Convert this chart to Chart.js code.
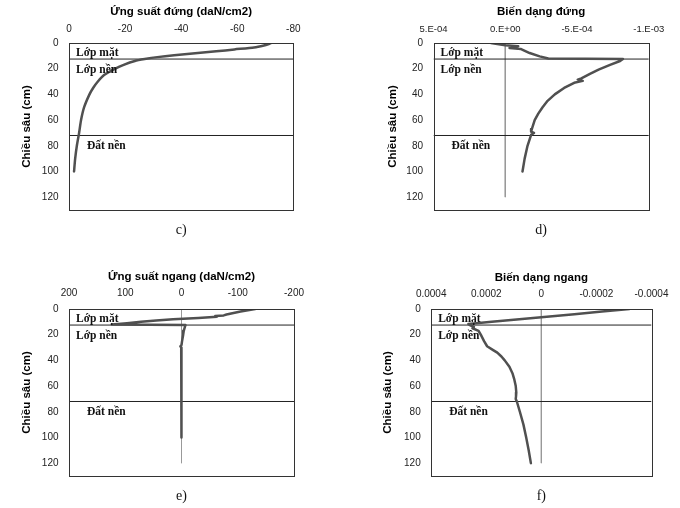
<!DOCTYPE html>
<html>
<head>
<meta charset="utf-8">
<script src="https://cdn.jsdelivr.net/npm/chart.js@4/dist/chart.umd.min.js"></script>
<style>
  body { margin: 0; background: #fff; width: 680px; height: 508px; position: relative; overflow: hidden; }
  .panel { position: absolute; width: 340px; height: 254px; }
</style>
</head>
<body>
<div class="panel" style="left:0;top:0"><canvas id="chartC"></canvas></div>
<div class="panel" style="left:340px;top:0"><canvas id="chartD"></canvas></div>
<div class="panel" style="left:0;top:254px"><canvas id="chartE"></canvas></div>
<div class="panel" style="left:340px;top:254px"><canvas id="chartF"></canvas></div>
<script>
// shared depth axis + layers
const depthTicks = [0, 20, 40, 60, 80, 100, 120]
const layerBounds = [12.5, 72]
const layerNames = ['Lớp mặt', 'Lớp nền', 'Đất nền']
const layerLabelDepths = [8, 21, 80]
const zeroLineDepths = [0, 120]

// c) Ứng suất đứng (daN/cm2)
const depthC = [0, 1, 2, 3.5, 5, 6.5, 8, 9.5, 11, 12.5, 14, 17, 20, 25, 30, 35, 40, 50, 60, 70, 80, 90, 100]
const stressV = [-72, -71, -69.5, -66, -59, -52.5, -45, -37.5, -31.5, -27, -23.5, -19.5, -16.5, -12.5, -10.3, -8.6, -7.3, -5.4, -4.3, -3.6, -2.8, -2.2, -1.8]
const ticksC = [0, -20, -40, -60, -80]
const tickLabelsC = ['0', '-20', '-40', '-60', '-80']

// d) Biến dạng đứng
const depthD = [0, 1.8, 2.6, 3.9, 4.7, 7.8, 10.4, 12, 12.5, 14, 17, 20.8, 24, 27.5, 28.5, 29.5, 31, 35, 40, 45, 50, 55, 60, 67, 69, 70, 71.5, 80, 90, 100]
const strainV = [1.0e-4, 0.0e-4, -0.9e-4, -0.3e-4, -1.1e-4, -1.7e-4, -2.4e-4, -3.0e-4, -8.2e-4, -8.0e-4, -7.3e-4, -6.5e-4, -5.9e-4, -5.3e-4, -5.05e-4, -5.4e-4, -4.8e-4, -4.1e-4, -3.45e-4, -2.95e-4, -2.6e-4, -2.3e-4, -2.05e-4, -1.85e-4, -1.8e-4, -2.0e-4, -1.8e-4, -1.55e-4, -1.35e-4, -1.2e-4]
const ticksD = [5e-4, 0, -5e-4, -1e-3]
const tickLabelsD = ['5.E-04', '0.E+00', '-5.E-04', '-1.E-03']

// e) Ứng suất ngang (daN/cm2)
const depthE = [0, 2, 4.3, 5, 5.5, 6.1, 7, 8, 9, 10, 11, 11.6, 12.1, 12.5, 14, 17, 20, 25, 28, 29, 30, 35, 50, 70, 72, 80, 90, 100]
const stressH = [-131, -105, -80, -75, -60, -63, -30, 15, 45, 72, 97, 113, 124, -7, -6, -4, -3, -1, 0, 2, 0.5, 0.5, 0.5, 0.5, 0, 0, -0.5, -0.5]
const ticksE = [200, 100, 0, -100, -200]
const tickLabelsE = ['200', '100', '0', '-100', '-200']

// f) Biến dạng ngang
const depthF = [0, 2, 4, 6, 8, 10, 11.7, 12.5, 14, 15, 17, 20, 25, 29, 32, 34, 37, 40, 45, 50, 55, 60, 65, 68, 70, 72, 80, 90, 100, 110, 120]
const strainH = [-3.2e-4, -2.2e-4, -1.2e-4, -0.2e-4, 0.8e-4, 1.8e-4, 2.65e-4, 2.6e-4, 2.45e-4, 2.5e-4, 2.28e-4, 2.2e-4, 2.08e-4, 1.97e-4, 1.75e-4, 1.6e-4, 1.45e-4, 1.33e-4, 1.16e-4, 1.05e-4, 0.98e-4, 0.93e-4, 0.91e-4, 0.92e-4, 0.93e-4, 0.89e-4, 0.78e-4, 0.65e-4, 0.55e-4, 0.46e-4, 0.38e-4]
const ticksF = [4e-4, 2e-4, 0, -2e-4, -4e-4]
const tickLabelsF = ['0.0004', '0.0002', '0', '-0.0002', '-0.0004']

const SANS = 'Arial, "Liberation Sans", sans-serif'
const SERIF = '"Times New Roman", "Liberation Serif", serif'
const TITLE_SIZE = 11.5
const TITLE_LH = TITLE_SIZE * 1.2

const panelDecor = {
  id: 'panelDecor',
  afterDraw(chart, args, opts) {
    const { ctx, chartArea: a, scales: { y } } = chart
    ctx.save()
    // plot box
    ctx.strokeStyle = '#333'
    ctx.lineWidth = 1
    const l = Math.round(a.left) + 0.5, t = Math.round(a.top) + 0.5
    ctx.strokeRect(l, t, Math.round(a.right) - Math.round(a.left), Math.round(a.bottom) - Math.round(a.top))
    // layer names
    ctx.fillStyle = '#111'
    ctx.font = 'bold 11.5px ' + SERIF
    ctx.textBaseline = 'middle'
    ctx.textAlign = 'left'
    layerNames.forEach((name, i) => {
      ctx.fillText(name, a.left + (i === 2 ? 18 : 7), y.getPixelForValue(layerLabelDepths[i]))
    })
    // caption
    ctx.font = '14px ' + SERIF
    ctx.textAlign = 'center'
    ctx.fillText(opts.caption, (a.left + a.right) / 2, a.bottom + 20)
    ctx.restore()
  }
}

function makePanel(p) {
  const padLeft = p.yTitleX - TITLE_LH / 2
  const padTop = p.titleY - TITLE_LH / 2
  const yWidth = p.area.left - padLeft
  const xHeight = p.area.top - padTop

  const datasets = [
    {
      data: p.depths.map((d, i) => ({ x: p.values[i], y: d })),
      borderColor: '#505050',
      borderWidth: 2.5,
      borderJoinStyle: 'round',
      borderCapStyle: 'round',
      tension: p.tension || 0
    },
    ...layerBounds.map(b => ({
      data: [{ x: p.xMin, y: b }, { x: p.xMax, y: b }],
      borderColor: '#222',
      borderWidth: 1
    })),
    {
      data: zeroLineDepths.map(d => ({ x: 0, y: d })),
      borderColor: '#999',
      borderWidth: 1
    }
  ]
  datasets.forEach(ds => { ds.showLine = true; ds.pointRadius = 0; ds.fill = false })

  new Chart(p.id, {
    type: 'scatter',
    data: { datasets },
    options: {
      responsive: true,
      maintainAspectRatio: false,
      animation: false,
      layout: { padding: { left: padLeft, top: padTop, right: 340 - p.area.right, bottom: 254 - p.area.bottom } },
      plugins: { legend: { display: false }, tooltip: { enabled: false }, panelDecor: { caption: p.caption } },
      scales: {
        x: {
          type: 'linear',
          position: 'top',
          min: p.xMin,
          max: p.xMax,
          reverse: true,
          grid: { display: false, drawTicks: false },
          border: { display: false },
          afterBuildTicks: s => { s.ticks = p.ticks.map(v => ({ value: v })) },
          afterFit: s => { s.height = xHeight },
          ticks: {
            autoSkip: false,
            maxRotation: 0,
            padding: p.tickPad,
            color: '#222',
            font: { family: SANS, size: p.tickSize || 10 },
            callback: (v, i) => p.tickLabels[i]
          },
          title: {
            display: true,
            text: p.title,
            color: '#000',
            padding: 0,
            font: { family: SANS, size: TITLE_SIZE, weight: 'bold', lineHeight: 1.2 }
          }
        },
        y: {
          type: 'linear',
          min: 0,
          max: 130,
          reverse: true,
          grid: { display: false, drawTicks: false },
          border: { display: false },
          afterBuildTicks: s => { s.ticks = depthTicks.map(v => ({ value: v })) },
          afterFit: s => { s.width = yWidth },
          ticks: {
            padding: 10.5,
            color: '#222',
            font: { family: SANS, size: 10 }
          },
          title: {
            display: true,
            text: 'Chiều sâu (cm)',
            color: '#000',
            padding: 0,
            font: { family: SANS, size: TITLE_SIZE, weight: 'bold', lineHeight: 1.2 }
          }
        }
      }
    },
    plugins: [panelDecor]
  })
}

makePanel({
  id: 'chartC', title: 'Ứng suất đứng (daN/cm2)', caption: 'c)', tension: 0.2,
  depths: depthC, values: stressV, xMin: -80, xMax: 0, ticks: ticksC, tickLabels: tickLabelsC,
  area: { left: 69, top: 43, right: 293.3, bottom: 210 }, titleY: 12.3, yTitleX: 26.7, tickPad: 7.7
})
makePanel({
  id: 'chartD', title: 'Biến dạng đứng', caption: 'd)',
  depths: depthD, values: strainV, xMin: -1e-3, xMax: 5e-4, ticks: ticksD, tickLabels: tickLabelsD, tickSize: 9.5,
  area: { left: 93.5, top: 43, right: 308.8, bottom: 210 }, titleY: 12.3, yTitleX: 53.3, tickPad: 8.3
})
makePanel({
  id: 'chartE', title: 'Ứng suất ngang (daN/cm2)', caption: 'e)',
  depths: depthE, values: stressH, xMin: -200, xMax: 200, ticks: ticksE, tickLabels: tickLabelsE,
  area: { left: 69, top: 55, right: 294, bottom: 222 }, titleY: 23.3, yTitleX: 27.3, tickPad: 9.7
})
makePanel({
  id: 'chartF', title: 'Biến dạng ngang', caption: 'f)',
  depths: depthF, values: strainH, xMin: -4e-4, xMax: 4e-4, ticks: ticksF, tickLabels: tickLabelsF,
  area: { left: 91.2, top: 55, right: 311.5, bottom: 222 }, titleY: 24, yTitleX: 48.3, tickPad: 8.3
})
</script>
</body>
</html>
